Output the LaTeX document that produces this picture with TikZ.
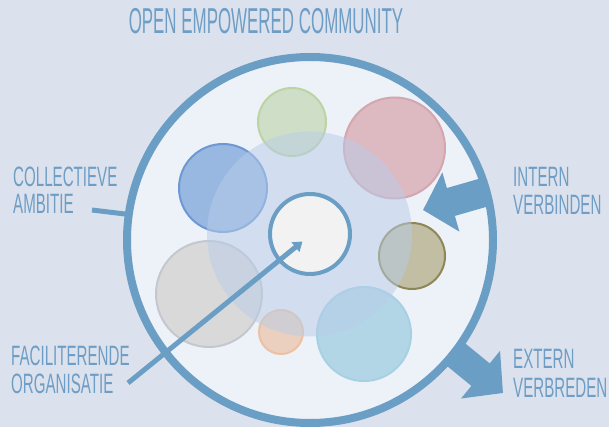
\documentclass[tikz,border=0pt]{standalone}
\usepackage{fontspec}
\usetikzlibrary{arrows.meta}
\newfontfamily\labelfont[FakeStretch=0.54]{Liberation Sans}
\newfontfamily\titlefont[FakeStretch=0.47]{Liberation Sans}
\definecolor{bgc}{HTML}{DCE2ED}
\definecolor{ringc}{HTML}{6B9EC4}
\definecolor{innerc}{HTML}{EDF1F8}
\definecolor{txtc}{HTML}{6E9DC5}
\definecolor{bigc}{HTML}{B8CDE8}
\definecolor{greenf}{HTML}{CFDEC6}\definecolor{greend}{HTML}{BCD3A4}
\definecolor{pinkf}{HTML}{DDBAC2}\definecolor{pinkd}{HTML}{D4A6AE}
\definecolor{bluef}{HTML}{98B8E2}\definecolor{blued}{HTML}{6E98D4}
\definecolor{olivef}{HTML}{C1BEA4}\definecolor{olived}{HTML}{8F8656}
\definecolor{grayf}{HTML}{D9D9D9}\definecolor{grayd}{HTML}{C3C8D0}
\definecolor{orangef}{HTML}{EBD0BF}\definecolor{oranged}{HTML}{ECC1A2}
\definecolor{cyanf}{HTML}{B2D6E6}\definecolor{cyand}{HTML}{A5D1E3}
\definecolor{centerf}{HTML}{F2F2F2}
\tikzset{
  bubble/.style={circle, inner sep=0pt, line width=2pt},
  lbl/.style={anchor=base west, inner sep=0pt, text=txtc, font=\labelfont\fontsize{28}{28}\selectfont},
  ttl/.style={anchor=base, inner sep=0pt, text=txtc, font=\titlefont\fontsize{36}{36}\selectfont},
  blockarrow/.style={draw=ringc, line width=29pt, -{Triangle[length=29pt,width=60pt]}},
  pointer/.style={draw=ringc, line width=5pt}
}
\begin{document}
\begin{tikzpicture}[x=1pt,y=-1pt]
\useasboundingbox[fill=bgc] (0,0) rectangle (609,427);
% main circle fill
\node[circle, inner sep=0pt, minimum size=366pt, fill=innerc] (main) at (310,240) {};
% small circles
\node[bubble, fill=greenf, draw=greend, minimum size=68pt] (green) at (292,122) {};
\node[bubble, fill=pinkf, draw=pinkd, minimum size=101pt] (pink) at (394.5,148) {};
\node[bubble, fill=bluef, draw=blued, minimum size=88pt] (blue) at (223,188) {};
\node[bubble, fill=olivef, draw=olived, minimum size=66pt] (olive) at (412,256) {};
\node[bubble, fill=grayf, draw=grayd, minimum size=106pt] (gray) at (209,294) {};
\node[bubble, fill=orangef, draw=oranged, minimum size=44pt] (orange) at (281,332) {};
\node[bubble, fill=cyanf, draw=cyand, minimum size=94pt] (cyan) at (364,334) {};
% translucent big circle
\node[circle, inner sep=0pt, minimum size=205pt, fill=bigc, fill opacity=0.5] (big) at (309.5,234) {};
% center circle
\node[circle, inner sep=0pt, minimum size=80pt, fill=centerf, draw=ringc, line width=4pt] (center) at (310,234) {};
% ring
\draw[ringc, line width=8pt] (main.center) circle[radius=183pt];
% coordinates for connectors
\coordinate (ca) at (92,210);
\coordinate (cb) at (125,214);
\coordinate (fa) at (128,383);
\coordinate (fb) at (302.5,241.5);
\coordinate (ia) at (488,191.3);
\coordinate (ib) at (423,210);
\coordinate (ea) at (453.2,352.3);
\coordinate (eb) at (503,393);
% connectors
\draw[pointer] (ca) -- (cb);
\draw[pointer, -{Triangle[length=9pt,width=12pt]}] (fa) -- (fb);
\draw[blockarrow] (ia) -- (ib);
\draw[blockarrow] (ea) -- (eb);
% texts
\node[ttl] (title) at (266,34) {OPEN EMPOWERED COMMUNITY};
\node[lbl] (coll1) at (13,187) {COLLECTIEVE};
\node[lbl] (coll2) at (13,214) {AMBITIE};
\node[lbl] (fac1) at (11,365) {FACILITERENDE};
\node[lbl] (fac2) at (11,393) {ORGANISATIE};
\node[lbl] (int1) at (513,187) {INTERN};
\node[lbl] (int2) at (513,215) {VERBINDEN};
\node[lbl] (ext1) at (513,368) {EXTERN};
\node[lbl] (ext2) at (513,397) {VERBREDEN};
\end{tikzpicture}
\end{document}
